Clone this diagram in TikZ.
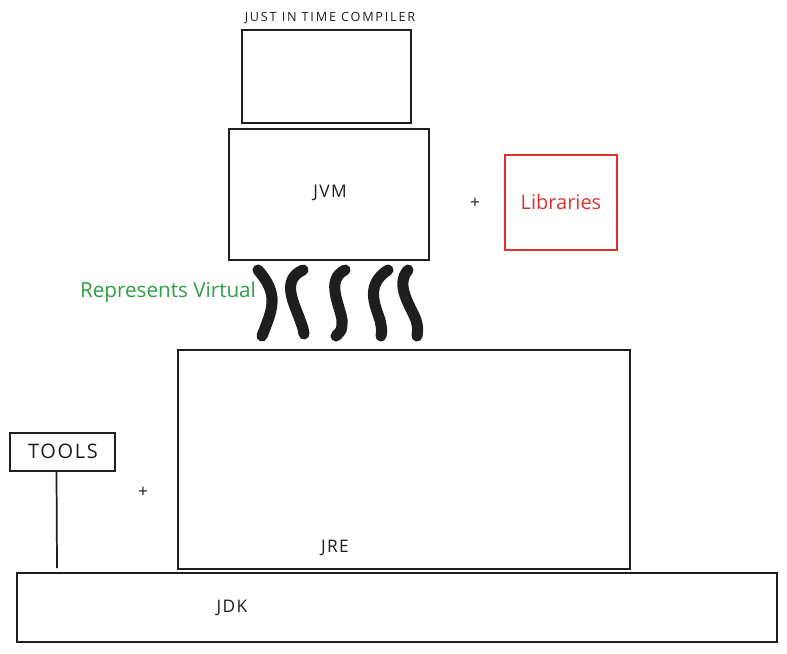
\documentclass[tikz,border=0pt]{standalone}
\usepackage{fontspec}
\setmainfont{Open Sans}
\usetikzlibrary{fit}
\definecolor{ink}{HTML}{1E1E1E}
\definecolor{exgreen}{HTML}{2F9E44}
\definecolor{exred}{HTML}{E03131}
\begin{document}
\begin{tikzpicture}[x=0.75pt,y=-0.75pt,
  box/.style={draw=ink,line width=1.3pt,inner sep=0pt,fill=none},
  lbl/.style={text=ink,inner sep=0pt,font=\fontsize{13}{15}\selectfont\addfontfeatures{LetterSpace=8}},
  squig/.style={draw=ink,line width=8.3pt,line cap=round}]
\useasboundingbox (0,0) rectangle (787,653);
% boxes
\node[box,fit={(242,30) (411,123)}] (jit) {};
\node[box,fit={(229,129) (429,260)}] (jvm) {};
\node[box,draw=exred,fit={(505,155) (617,250)}] (lib) {};
\node[box,fit={(178,350) (630,569)}] (jre) {};
\node[box,fit={(10,433) (115,471)}] (tools) {};
\node[box,fit={(17,573) (777,642)}] (jdk) {};
% labels
\node[lbl,font=\fontsize{9.5}{11}\selectfont\addfontfeatures{LetterSpace=14}] (jitlbl) at (330,18) {JUST IN TIME COMPILER};
\node[lbl] (jvmlbl) at (330,193) {JVM};
\node[lbl,text=exred,font=\fontsize{15}{17}\selectfont] (liblbl) at (561,202) {Libraries};
\node[lbl,font=\fontsize{13}{15}\selectfont] (plus1) at (475,203) {+};
\node[lbl,text=exgreen,font=\fontsize{15.5}{17}\selectfont] (virt) at (168,292) {Represents Virtual};
\node[lbl] (jrelbl) at (335,548) {JRE};
\node[lbl,font=\fontsize{15}{17}\selectfont\addfontfeatures{LetterSpace=8}] (toolslbl) at (63,451) {TOOLS};
\node[lbl,font=\fontsize{13}{15}\selectfont] (plus2) at (143,492) {+};
\node[lbl] (jdklbl) at (232,608) {JDK};
% tools post
\coordinate (toolsfoot) at (57,568);
\draw[ink,line width=1.3pt] ([xshift=-4.5pt]tools.south) -- (toolsfoot);
% squiggles
\draw[squig] (258,270) .. controls (280,295) and (272,310) .. (262,336);
\draw[squig] (303,270) .. controls (280,280) and (295,305) .. (300,320) .. controls (303,328) .. (304,334);
\draw[squig] (345,270) .. controls (325,280) and (340,305) .. (342,320) .. controls (342,330) .. (336,336);
\draw[squig] (388,270) .. controls (365,285) and (375,305) .. (380,320) .. controls (382,330) .. (381,336);
\draw[squig] (408,270) .. controls (395,285) and (410,305) .. (416,320) .. controls (418,328) .. (417,336);
\end{tikzpicture}
\end{document}
